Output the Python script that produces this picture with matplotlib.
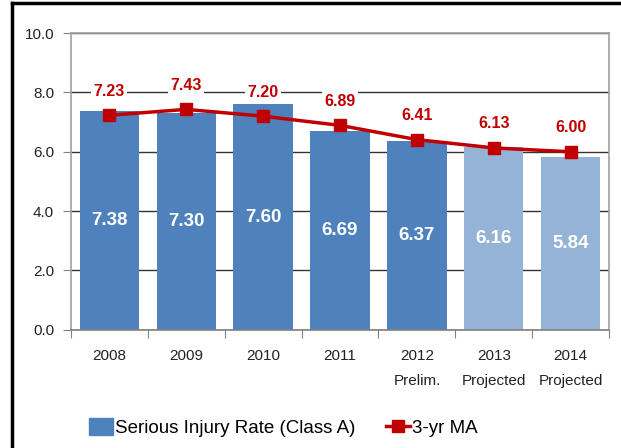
import numpy as np
import matplotlib.pyplot as plt
from matplotlib.lines import Line2D
from matplotlib.patches import Patch

plt.rcParams['font.family'] = ['Liberation Sans', 'DejaVu Sans']

years = ['2008', '2009', '2010', '2011', '2012\nPrelim.', '2013\nProjected', '2014\nProjected']
injury_rate = [7.38, 7.30, 7.60, 6.69, 6.37, 6.16, 5.84]
ma_3yr = [7.23, 7.43, 7.20, 6.89, 6.41, 6.13, 6.00]
projected = [False, False, False, False, False, True, True]

fig = plt.figure(figsize=(6.21, 4.48), dpi=100)
ax = fig.add_axes([0.114, 0.264, 0.867, 0.662])

x = np.arange(len(years))
colors = ['#95B3D7' if p else '#4F81BD' for p in projected]
ax.bar(x, injury_rate, width=0.77, color=colors, zorder=2)
ax.plot(x, ma_3yr, color='#C00000', lw=2.5, marker='s', ms=9,
        markerfacecolor='#C00000', markeredgecolor='#C00000', zorder=3)

for xi, v in zip(x, injury_rate):
    ax.text(xi, v / 2, f'{v:.2f}', ha='center', va='center', color='white',
            fontsize=13.5, fontweight='bold', zorder=4)
for xi, v in zip(x, ma_3yr):
    ax.annotate(f'{v:.2f}', (xi, v), xytext=(0, 12), textcoords='offset points',
                ha='center', va='bottom', color='#C00000', fontsize=11.5,
                fontweight='bold', zorder=4,
                bbox=dict(boxstyle='square,pad=0.15', fc='white', ec='none'))

ax.set_xlim(-0.5, len(years) - 0.5)
ax.set_ylim(0, 10)
ax.set_yticks(np.arange(0, 10.1, 2))
ax.set_yticklabels([f'{t:.1f}' for t in np.arange(0, 10.1, 2)], fontsize=11, color='#222222')
ax.yaxis.grid(True, color='#333333', lw=1, zorder=1)
ax.set_axisbelow(True)

ax.set_xticks(np.arange(-0.5, len(years), 1))
ax.set_xticklabels([])
ax.set_xticks(x, minor=True)
ax.set_xticklabels(years, minor=True, fontsize=11, color='#222222')
ax.tick_params(axis='x', which='minor', length=0, pad=14)
ax.tick_params(axis='x', which='major', length=6, color='#808080', direction='out')
ax.tick_params(axis='y', length=6, color='#808080', direction='out', pad=6)
for lbl in ax.get_xticklabels(minor=True):
    lbl.set_linespacing(2.0)

for s in ax.spines.values():
    s.set_color('#A0A0A0')
    s.set_linewidth(1.2)
ax.spines['bottom'].set_color('#808080')

handles = [Patch(color='#4F81BD'),
           Line2D([0], [0], color='#C00000', lw=2.5, marker='s', ms=8)]
fig.legend(handles, ['Serious Injury Rate (Class A)', '3-yr MA'], loc='center',
           bbox_to_anchor=(0.456, 0.045), ncol=2, frameon=False, fontsize=13.5,
           handlelength=1.3, handleheight=1.0, handletextpad=0.1, columnspacing=1.6)

# outer chart frame (left and top edges visible in the crop)
fig.add_artist(Line2D([0.019, 0.019], [0, 0.994], transform=fig.transFigure, color='black', lw=2.5))
fig.add_artist(Line2D([0.019, 1.0], [0.994, 0.994], transform=fig.transFigure, color='black', lw=2.5))

fig.savefig('out.png', dpi=100)
